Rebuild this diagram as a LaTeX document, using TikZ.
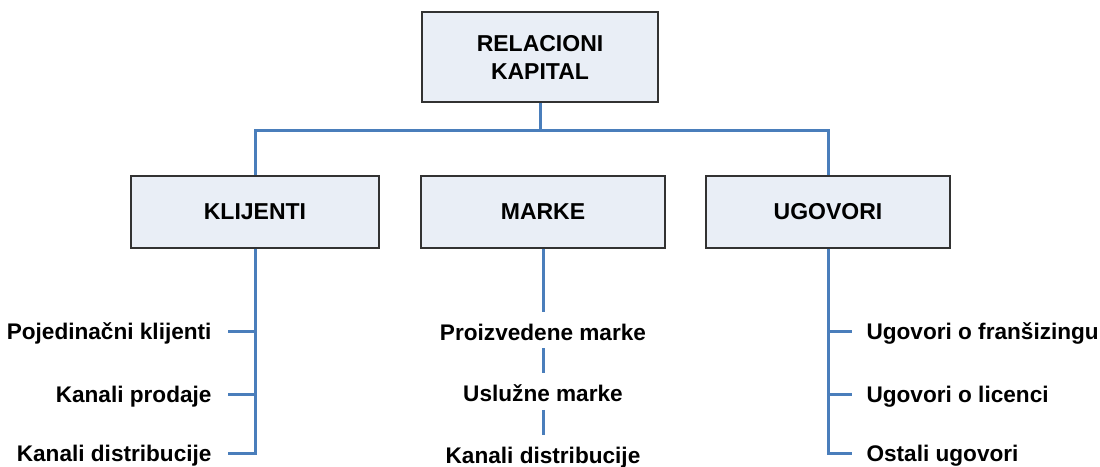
\documentclass[tikz,border=0pt]{standalone}
\usepackage{fontspec}
\setmainfont{Liberation Sans}
\usetikzlibrary{positioning}
\definecolor{linkblue}{RGB}{74,126,187}
\definecolor{boxfill}{RGB}{233,238,246}
\definecolor{boxline}{RGB}{50,50,50}

\begin{document}
\begin{tikzpicture}[x=1pt, y=-1pt, node distance = 45pt and 15pt,
  box/.style={draw=boxline, line width=1.6pt, fill=boxfill, minimum height=72pt, align=center, font=\fontsize{23}{28}\selectfont\bfseries},
  item/.style={font=\fontsize{22.6}{27}\selectfont\bfseries, inner sep=0pt, text height=16.2pt, text depth=0pt},
  link/.style={draw=linkblue, line width=3pt}]
\useasboundingbox (0,0) rectangle (1100,466);
%
\node (rk)  [box, minimum width=236pt, minimum height=90pt] at (540,57) {RELACIONI\\KAPITAL};
\node (kli) [box, minimum width=248pt] at (255,212) {KLIJENTI};
\node (mar) [box, minimum width=244pt] at (543,212) {MARKE};
\node (ugo) [box, minimum width=244pt] at (828,212) {UGOVORI};
%
\coordinate (bus) at (540,130);
\draw[link] (rk.south) -- (bus);
\draw[link] (kli.north) |- (bus) -| (ugo.north);
%
\foreach \y [count=\i] in {331,394,453}
  \coordinate (kt\i) at (228,\y);
\foreach \y [count=\i] in {331,394,453}
  \coordinate (ut\i) at (852,\y);
%
\foreach \l [count=\i] in {Pojedinačni klijenti, Kanali prodaje, Kanali distribucije}
  \draw[link] (kt\i) node[item, left=15pt] (kl\i) {\l} -- (kt\i -| kli.south);
\draw[link] (kli.south) |- (kt3);
%
\node (m1) [item] at (543,332) {Proizvedene marke};
\node (m2) [item, below=of m1] {Uslužne marke};
\node (m3) [item, below=of m2] {Kanali distribucije};
\draw[link, shorten >=12pt] (mar.south) -- (m1.north);
\draw[link, shorten <=8pt, shorten >=12pt] (m1.south) -- (m2.north);
\draw[link, shorten <=8pt, shorten >=12pt] (m2.south) -- (m3.north);
%
\foreach \l [count=\i] in {Ugovori o franšizingu, Ugovori o licenci, Ostali ugovori}
  \draw[link] (ugo.south |- ut\i) -- (ut\i) node[item, right=13pt] (ug\i) {\l};
\draw[link] (ugo.south) |- (ut3);
\end{tikzpicture}
\end{document}
